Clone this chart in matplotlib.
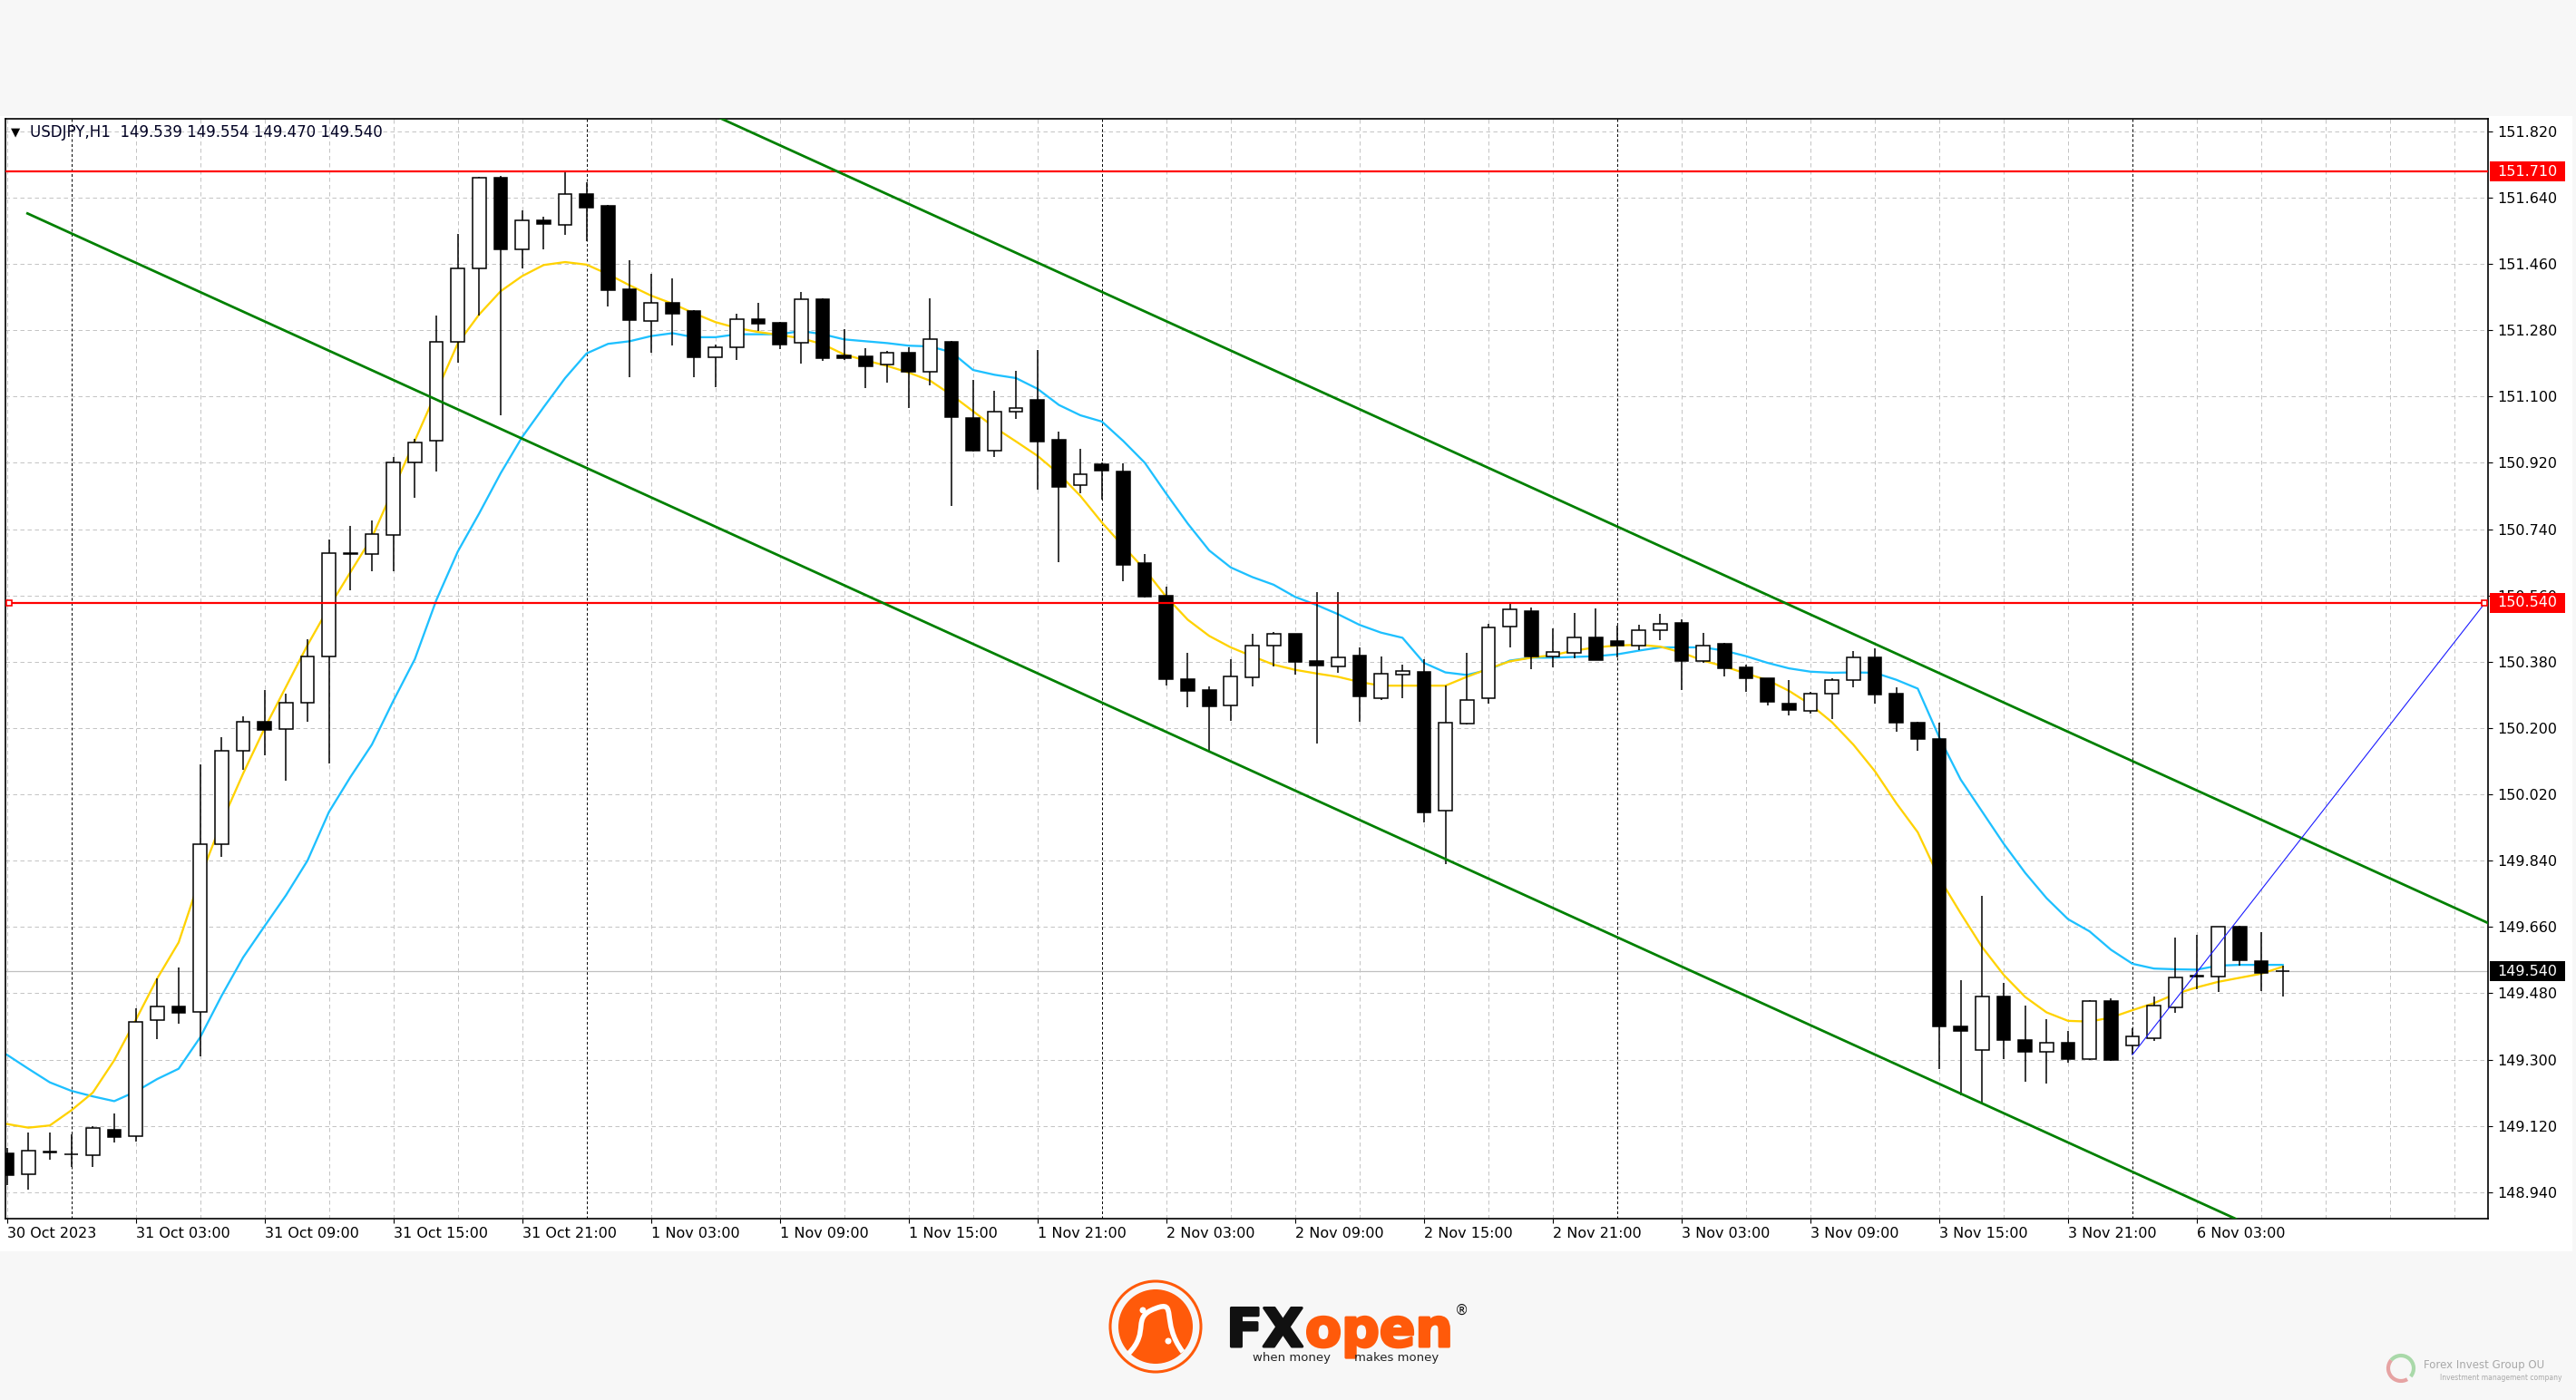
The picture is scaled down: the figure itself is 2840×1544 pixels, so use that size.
import matplotlib
matplotlib.use("Agg")
import matplotlib.pyplot as plt
from matplotlib.patches import Rectangle, Circle, Arc, PathPatch
from matplotlib.path import Path
from matplotlib.transforms import blended_transform_factory
import matplotlib.patheffects as pe
import numpy as np

plt.rcParams['font.family'] = ['DejaVu Sans']

# ---------------- data ----------------
symbol = "USDJPY,H1"
header_ohlc = ["149.539", "149.554", "149.470", "149.540"]

opens = [149.045, 148.989, 149.047, 149.042, 149.040, 149.110, 149.093, 149.407, 149.445, 149.430,
         149.884, 150.137, 150.218, 150.197, 150.268, 150.395, 150.672, 150.672, 150.724, 150.922,
         150.979, 151.248, 151.448, 151.693, 151.499, 151.578, 151.565, 151.649, 151.617, 151.391,
         151.305, 151.355, 151.333, 151.207, 151.234, 151.311, 151.300, 151.245, 151.365, 151.211,
         151.209, 151.187, 151.220, 151.168, 151.249, 151.042, 150.954, 151.058, 151.091, 150.983,
         150.859, 150.917, 150.896, 150.648, 150.560, 150.333, 150.302, 150.261, 150.337, 150.424,
         150.455, 150.381, 150.367, 150.396, 150.282, 150.344, 150.353, 149.976, 150.212, 150.280,
         150.476, 150.518, 150.395, 150.405, 150.447, 150.436, 150.424, 150.466, 150.485, 150.381,
         150.428, 150.364, 150.334, 150.265, 150.247, 150.294, 150.331, 150.393, 150.294, 150.214,
         150.170, 149.390, 149.326, 149.470, 149.354, 149.320, 149.346, 149.302, 149.459, 149.338,
         149.357, 149.441, 149.525, 149.525, 149.661, 149.566, 149.539]
highs = [149.060, 149.102, 149.102, 149.096, 149.119, 149.153, 149.439, 149.520, 149.549, 150.101,
         150.174, 150.231, 150.302, 150.293, 150.440, 150.713, 150.749, 150.764, 150.937, 150.984,
         151.320, 151.542, 151.697, 151.700, 151.606, 151.589, 151.712, 151.682, 151.619, 151.470,
         151.434, 151.421, 151.335, 151.242, 151.324, 151.355, 151.302, 151.385, 151.367, 151.282,
         151.231, 151.223, 151.233, 151.366, 151.252, 151.145, 151.115, 151.170, 151.227, 151.005,
         150.958, 150.920, 150.918, 150.673, 150.584, 150.404, 150.313, 150.386, 150.455, 150.461,
         150.457, 150.570, 150.568, 150.419, 150.394, 150.372, 150.386, 150.315, 150.403, 150.483,
         150.537, 150.527, 150.471, 150.513, 150.525, 150.477, 150.480, 150.509, 150.496, 150.459,
         150.430, 150.372, 150.336, 150.331, 150.297, 150.334, 150.410, 150.416, 150.311, 150.216,
         150.214, 149.516, 149.745, 149.508, 149.447, 149.409, 149.377, 149.461, 149.467, 149.384,
         149.472, 149.631, 149.639, 149.661, 149.664, 149.646, 149.554]
lows = [148.960, 148.946, 149.027, 149.008, 149.008, 149.074, 149.078, 149.356, 149.398, 149.309,
        149.850, 150.086, 150.127, 150.057, 150.218, 150.104, 150.575, 150.626, 150.626, 150.826,
        150.896, 151.193, 151.320, 151.050, 151.448, 151.499, 151.540, 151.521, 151.345, 151.153,
        151.220, 151.239, 151.152, 151.126, 151.200, 151.278, 151.228, 151.189, 151.196, 151.200,
        151.124, 151.137, 151.069, 151.130, 150.804, 150.950, 150.937, 151.040, 150.846, 150.650,
        150.838, 150.819, 150.598, 150.555, 150.316, 150.256, 150.137, 150.219, 150.314, 150.367,
        150.344, 150.157, 150.351, 150.216, 150.275, 150.282, 149.943, 149.830, 150.210, 150.266,
        150.419, 150.361, 150.364, 150.389, 150.384, 150.393, 150.412, 150.438, 150.303, 150.377,
        150.341, 150.298, 150.261, 150.235, 150.240, 150.224, 150.311, 150.266, 150.191, 150.137,
        149.274, 149.203, 149.181, 149.302, 149.239, 149.234, 149.291, 149.300, 149.296, 149.313,
        149.351, 149.428, 149.491, 149.483, 149.555, 149.486, 149.470]
closes = [148.985, 149.053, 149.050, 149.044, 149.115, 149.089, 149.402, 149.445, 149.428, 149.884,
          150.137, 150.218, 150.195, 150.268, 150.395, 150.675, 150.675, 150.726, 150.920, 150.975,
          151.248, 151.448, 151.693, 151.499, 151.578, 151.568, 151.649, 151.612, 151.389, 151.307,
          151.355, 151.324, 151.207, 151.234, 151.310, 151.298, 151.241, 151.365, 151.203, 151.203,
          151.181, 151.218, 151.168, 151.256, 151.044, 150.953, 151.058, 151.069, 150.978, 150.855,
          150.888, 150.899, 150.643, 150.557, 150.333, 150.300, 150.258, 150.341, 150.425, 150.455,
          150.379, 150.369, 150.393, 150.285, 150.348, 150.356, 149.971, 150.214, 150.276, 150.473,
          150.523, 150.394, 150.407, 150.447, 150.384, 150.424, 150.466, 150.483, 150.383, 150.424,
          150.362, 150.336, 150.271, 150.249, 150.294, 150.330, 150.393, 150.292, 150.214, 150.170,
          149.390, 149.377, 149.470, 149.354, 149.320, 149.346, 149.302, 149.459, 149.298, 149.362,
          149.447, 149.522, 149.527, 149.661, 149.569, 149.536, 149.540]

ma_fast = [149.125, 149.115, 149.121, 149.162, 149.210, 149.298, 149.407, 149.520, 149.618, 149.793,
           149.944, 150.076, 150.199, 150.312, 150.425, 150.528, 150.623, 150.717, 150.849, 150.980,
           151.112, 151.244, 151.323, 151.386, 151.427, 151.457, 151.465, 151.458, 151.432, 151.402,
           151.374, 151.352, 151.326, 151.302, 151.286, 151.275, 151.267, 151.258, 151.242, 151.214,
           151.198, 151.183, 151.165, 151.143, 151.104, 151.060, 151.016, 150.978, 150.939, 150.890,
           150.830, 150.758, 150.693, 150.630, 150.556, 150.494, 150.450, 150.419, 150.395, 150.372,
           150.358, 150.348, 150.339, 150.325, 150.315, 150.315, 150.315, 150.315, 150.339, 150.361,
           150.381, 150.391, 150.398, 150.410, 150.419, 150.424, 150.426, 150.421, 150.405, 150.383,
           150.367, 150.348, 150.330, 150.301, 150.264, 150.216, 150.155, 150.083, 149.996, 149.917,
           149.793, 149.697, 149.605, 149.530, 149.470, 149.428, 149.405, 149.403, 149.414, 149.434,
           149.453, 149.478, 149.496, 149.511, 149.522, 149.533, 149.552]
ma_slow = [149.313, 149.275, 149.238, 149.215, 149.200, 149.187, 149.213, 149.247, 149.275, 149.360,
           149.473, 149.577, 149.662, 149.746, 149.840, 149.972, 150.067, 150.155, 150.274, 150.387,
           150.547, 150.679, 150.783, 150.892, 150.990, 151.071, 151.150, 151.217, 151.243, 151.250,
           151.264, 151.272, 151.261, 151.261, 151.269, 151.269, 151.269, 151.278, 151.269, 151.255,
           151.250, 151.245, 151.238, 151.236, 151.220, 151.172, 151.159, 151.150, 151.121, 151.077,
           151.049, 151.032, 150.979, 150.920, 150.836, 150.755, 150.682, 150.636, 150.610, 150.589,
           150.556, 150.534, 150.509, 150.480, 150.459, 150.445, 150.377, 150.351, 150.344, 150.358,
           150.383, 150.391, 150.391, 150.393, 150.395, 150.400, 150.410, 150.419, 150.419, 150.419,
           150.410, 150.395, 150.377, 150.362, 150.353, 150.350, 150.351, 150.350, 150.331, 150.307,
           150.175, 150.060, 149.973, 149.886, 149.807, 149.738, 149.681, 149.648, 149.598, 149.560,
           149.547, 149.545, 149.544, 149.555, 149.557, 149.557, 149.557]

x_label_bars = [0, 6, 12, 18, 24, 30, 36, 42, 48, 54, 60, 66, 72, 78, 84, 90, 96, 102]
x_labels = ["30 Oct 2023", "31 Oct 03:00", "31 Oct 09:00", "31 Oct 15:00", "31 Oct 21:00",
            "1 Nov 03:00", "1 Nov 09:00", "1 Nov 15:00", "1 Nov 21:00", "2 Nov 03:00",
            "2 Nov 09:00", "2 Nov 15:00", "2 Nov 21:00", "3 Nov 03:00", "3 Nov 09:00",
            "3 Nov 15:00", "3 Nov 21:00", "6 Nov 03:00"]
day_separator_bars = [3, 27, 51, 75, 99]
grid_bars = [0, 3, 6, 9, 12, 15, 18, 21, 24, 27, 30, 33, 36, 39, 42, 45, 48, 51, 54, 57, 60, 63,
             66, 69, 72, 75, 78, 81, 84, 87, 90, 93, 96, 99, 102, 105, 108, 111, 114]
price_ticks = [148.940, 149.120, 149.300, 149.480, 149.660, 149.840, 150.020, 150.200, 150.380,
               150.560, 150.740, 150.920, 151.100, 151.280, 151.460, 151.640, 151.820]

resistance_levels = [151.710, 150.540]
current_price = 149.540
channel_start = (0.96, 151.597)     # lower channel line anchor (bar, price)
channel_next = (90.0, 149.234)      # second anchor of the lower line
channel_width = 1.115               # price distance to the parallel upper line
blue_trend = [(99.0, 149.313), (115.4, 150.538)]
level_anchor_bars = [0.1, 115.37]

# ---------------- figure ----------------
FW, FH = 2840, 1544
fig = plt.figure(figsize=(FW / 100, FH / 100), dpi=100)
fig.patch.set_facecolor('#f7f7f7')

bg = fig.add_axes([0, 0, 1, 1], zorder=0)
bg.set_xlim(0, FW)
bg.set_ylim(FH, 0)
bg.axis('off')
bg.add_patch(Rectangle((0, 128), 2836, 1252, fc='white', ec='none'))

L, R, T, B = 5.7, 2743, 131, 1344
ax = fig.add_axes([L / FW, 1 - B / FH, (R - L) / FW, (B - T) / FH], zorder=1)
ax.set_facecolor('white')
ax.set_xlim(-0.08, 115.56)
ax.set_ylim(148.868, 151.854)

n = len(opens)
xs = np.arange(n)

# grid
for p in price_ticks:
    ax.axhline(p, color='#c4c4c4', lw=0.72, ls=(0, (4.5, 3.5)), zorder=0.5)
for b in grid_bars:
    if b in day_separator_bars:
        ax.axvline(b, color='#000000', lw=0.72, ls=(0, (3, 2.5)), zorder=0.6)
    else:
        ax.axvline(b, color='#c4c4c4', lw=0.72, ls=(0, (4.5, 3.5)), zorder=0.5)

# current price line
ax.axhline(current_price, color='#c0c0c0', lw=0.9, zorder=0.7)

# moving averages
ax.plot(xs, ma_slow, color='#1ec0ff', lw=1.65, zorder=2)
ax.plot(xs, ma_fast, color='#ffd200', lw=1.65, zorder=2)

# candles
o = np.array(opens); c = np.array(closes); h = np.array(highs); lo = np.array(lows)
ax.vlines(xs, lo, h, color='black', lw=1.1, zorder=3)
bull = c >= o
bottoms = np.minimum(o, c)
heights = np.abs(c - o)
ax.bar(xs[bull], heights[bull], bottom=bottoms[bull], width=0.62, color='white',
       edgecolor='black', linewidth=1.1, zorder=4)
ax.bar(xs[~bull], heights[~bull], bottom=bottoms[~bull], width=0.62, color='black',
       edgecolor='black', linewidth=1.1, zorder=4)

# horizontal levels
for lv in resistance_levels:
    ax.axhline(lv, color='#ff0000', lw=1.6, zorder=5)
for xb in level_anchor_bars:
    ax.plot(xb, resistance_levels[1], marker='s', ms=4.5, mfc='white', mec='#ff0000', mew=1.2,
            zorder=6, clip_on=False)

# channel
slope = (channel_next[1] - channel_start[1]) / (channel_next[0] - channel_start[0])
x_end = 130.0
lx = np.array([channel_start[0], x_end])
ly = channel_start[1] + slope * (lx - channel_start[0])
ax.plot(lx, ly, color='#008000', lw=2.0, zorder=5)
ax.plot(lx, ly + channel_width, color='#008000', lw=2.0, zorder=5)

# blue trend line
ax.plot([p[0] for p in blue_trend], [p[1] for p in blue_trend], color='#1a1aff', lw=0.8, zorder=5)

# axes styling
for s in ax.spines.values():
    s.set_color('black')
    s.set_linewidth(1.2)
ax.yaxis.tick_right()
ax.set_yticks(price_ticks)
ax.set_yticklabels([f"{p:.3f}" for p in price_ticks])
ax.tick_params(axis='y', direction='out', length=3.6, width=0.8, pad=4, labelsize=11.5, colors='black')
ax.set_xticks(x_label_bars)
ax.set_xticklabels(x_labels, ha='left')
ax.tick_params(axis='x', direction='out', length=3.6, width=0.8, pad=3, labelsize=11.5, colors='black')

# right-side price boxes
blend = blended_transform_factory(ax.transAxes, ax.transData)
ax_h_px = ax.get_position().height * FH
ppx = (ax.get_ylim()[1] - ax.get_ylim()[0]) / ax_h_px
box_x0 = 1 + (2745 - R) / (R - L)
box_w = (2828 - 2745) / (R - L)
txt_x = 1 + (2753 - R) / (R - L)
for val, col in [(resistance_levels[0], '#ff0000'), (resistance_levels[1], '#ff0000'),
                 (current_price, '#000000')]:
    ax.add_patch(Rectangle((box_x0, val - 11 * ppx), box_w, 22 * ppx, transform=blend,
                           fc=col, ec='none', clip_on=False, zorder=10))
    ax.text(txt_x, val, f"{val:.3f}", transform=blend, color='white', fontsize=11.5,
            va='center', ha='left', zorder=11, clip_on=False)

# header
ax.text((17.5 - L) / (R - L), 1 - (146 - T) / (B - T), "▼", transform=ax.transAxes,
        fontsize=9.5, va='center', ha='center', color='black', zorder=12)
ax.text((33 - L) / (R - L), 1 - (146 - T) / (B - T),
        symbol + "  " + " ".join(header_ohlc), transform=ax.transAxes,
        fontsize=12, va='center', ha='left', color='#000022', zorder=12)

# ---------------- logo (decoration) ----------------
orange = '#ff5a0a'
cx, cy = 1274, 1463
bg.add_patch(Circle((cx, cy), 50, fill=False, ec=orange, lw=2.2))
bg.add_patch(Circle((cx, cy), 41, fc=orange, ec='none'))
verts = [(cx - 30, cy + 30), (cx - 5, cy + 5), (cx - 28, cy - 10), (cx, cy - 20),
         (cx + 25, cy - 30), (cx + 5, cy - 5), (cx + 30, cy + 28)]
codes = [Path.MOVETO, Path.CURVE4, Path.CURVE4, Path.CURVE4, Path.CURVE4, Path.CURVE4, Path.CURVE4]
bg.add_patch(PathPatch(Path(verts, codes), fill=False, ec='white', lw=4))
bg.add_patch(Circle((cx - 14, cy - 18), 3.5, fc='white', ec='none'))
bg.add_patch(Circle((cx + 14, cy + 16), 3.5, fc='white', ec='none'))
bg.text(1437, 1485, "FX", fontsize=42, fontweight='bold', color='#111111', ha='right', va='baseline',
        path_effects=[pe.withStroke(linewidth=2.2, foreground='#111111')])
bg.text(1439, 1485, "open", fontsize=42, fontweight='bold', color=orange, ha='left', va='baseline',
        path_effects=[pe.withStroke(linewidth=2.2, foreground=orange)])
bg.text(1612, 1445, "®", fontsize=11, color='#111111', ha='center', va='center')
bg.text(1467, 1498, "when money", fontsize=9.5, color='#222222', ha='right', va='center')
bg.text(1493, 1498, "makes money", fontsize=9.5, color='#222222', ha='left', va='center')

# watermark
bg.add_patch(Arc((2647, 1509), 28, 28, theta1=60, theta2=220, color='#e6a3a3', lw=3))
bg.add_patch(Arc((2647, 1509), 28, 28, theta1=220, theta2=400, color='#a9d9a9', lw=3))
bg.text(2672, 1505, "Forex Invest Group OU", fontsize=8.5, color='#a8a8a8', ha='left', va='center')
bg.text(2690, 1520, "Investment management company", fontsize=5.5, color='#a8a8a8', ha='left', va='center')

fig.savefig("out.png", dpi=100, facecolor=fig.get_facecolor())
